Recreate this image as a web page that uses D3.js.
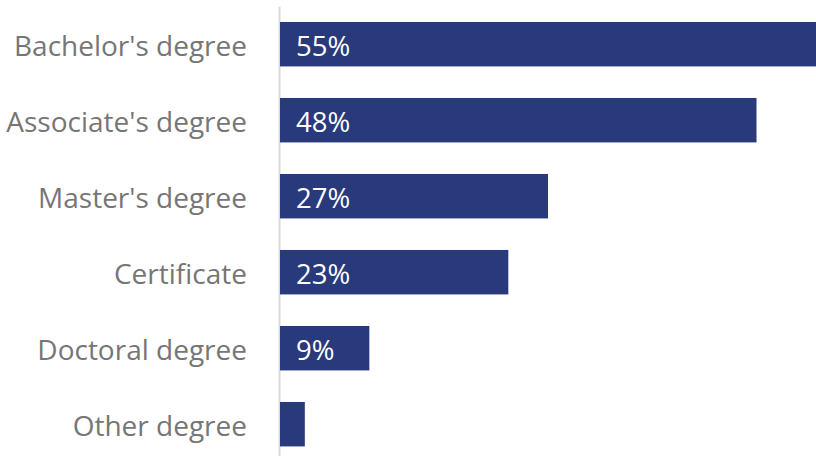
<!DOCTYPE html>
<html>
<head>
<meta charset="utf-8">
<script src="https://cdn.jsdelivr.net/npm/d3@7"></script>
<style>
  html, body { margin: 0; padding: 0; background: #ffffff; overflow: hidden; }
  svg { display: block; }
</style>
</head>
<body>
<div id="chart"></div>
<script>
// Highest degree held — share of respondents
const categories = ["Bachelor's degree", "Associate's degree", "Master's degree", "Certificate", "Doctoral degree", "Other degree"];
const values = [55, 48, 27, 23, 9, 2.5];

const width = 816, height = 456;
const barColor = "#293a7c";
const labelColor = "#767676";
const fontFamily = "'Open Sans', 'Noto Sans', sans-serif";

const svg = d3.select("#chart").append("svg")
  .attr("width", width)
  .attr("height", height);

const axisX = 279;

const x = d3.scaleLinear()
  .domain([0, 55])
  .range([280, 826]);

const y = d3.scaleBand()
  .domain(categories)
  .range([6.2, 462.2])
  .paddingInner(0.415)
  .paddingOuter(0.2075);

// Category axis with a light vertical rule
const yAxis = svg.append("g")
  .attr("transform", `translate(${axisX},0)`)
  .call(d3.axisLeft(y).tickSize(0).tickSizeOuter(0).tickPadding(32));

yAxis.select(".domain")
  .attr("stroke", "#d9d9d9")
  .attr("stroke-width", 2);

yAxis.selectAll(".tick text")
  .attr("fill", labelColor)
  .attr("font-family", fontFamily)
  .attr("font-size", "28px")
  .attr("dy", null)
  .attr("dominant-baseline", "central")
  .attr("y", 0.5);

const rows = categories.map((c, i) => ({ category: c, value: values[i] }));

// Bars
svg.append("g")
  .selectAll("rect")
  .data(rows)
  .join("rect")
  .attr("x", x(0))
  .attr("y", d => y(d.category))
  .attr("width", d => x(d.value) - x(0))
  .attr("height", y.bandwidth())
  .attr("fill", barColor);

// Value labels inside the bars (omitted where the bar is too short)
svg.append("g")
  .selectAll("text")
  .data(rows.filter(d => d.value >= 5))
  .join("text")
  .attr("x", x(0) + 16)
  .attr("y", d => y(d.category) + y.bandwidth() / 2 + 1)
  .attr("dominant-baseline", "central")
  .attr("fill", "#ffffff")
  .attr("font-family", fontFamily)
  .attr("font-size", "27.5px")
  .text(d => d3.format(".0f")(d.value) + "%");
</script>
</body>
</html>
